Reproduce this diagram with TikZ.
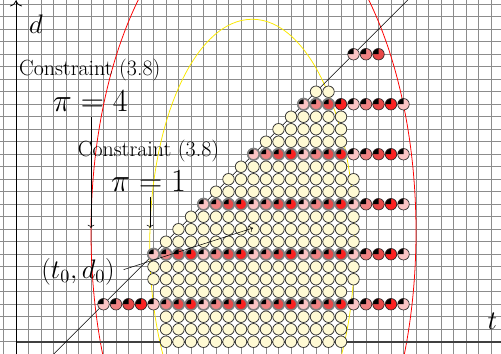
\documentclass[tikz,border=0pt]{standalone}
\usetikzlibrary{arrows.meta,positioning,calc}
\definecolor{cream}{RGB}{255,250,212}
\definecolor{yel}{RGB}{250,232,0}
\definecolor{pieA}{RGB}{250,196,196}
\definecolor{pieB}{RGB}{240,132,132}
\definecolor{pieC}{RGB}{232,72,72}
\definecolor{pieD}{RGB}{252,34,34}

\begin{document}
\begin{tikzpicture}[x=0.34cm,y=0.34cm,
  gridline/.style={black!45,line width=0.75pt},
  lbl/.style={font=\fontsize{17}{20}\selectfont,inner sep=1pt},
  bigmath/.style={font=\fontsize{23}{27}\selectfont,inner sep=2pt},
  axislbl/.style={font=\huge,inner sep=1pt}]
\useasboundingbox (-1.28,-0.98) rectangle (38.8,27.34);
\clip (-1.28,-0.98) rectangle (38.8,27.34);
\draw[gridline,step=0.34cm] (-2,-2) grid (40,29);
\draw[red,line width=0.6pt] (19,8.8) ellipse [x radius=13,y radius=26.3];
\draw[yel,line width=0.6pt] (18.9,7.8) ellipse [x radius=8.2,y radius=18];
\draw[black!75,line width=1.2pt] (0,0) -- (40,0);
\draw[-{To[length=1.6mm]},line width=0.6pt] (0,-1) -- (0,27.3);
\draw[line width=0.5pt] (2.5,-1.5) -- (32,28);
\foreach \i in {10,...,28}{
  \foreach \j in {0,...,21}{
    \pgfmathtruncatemacro\ins{(((\i-19)/8.3)^2+((\j-9)/17)^2<=1) && (\j<=\i-4)}
    \ifnum\ins=1
      \draw[fill=cream,draw=black!80,line width=0.6pt] (\i,\j) circle (0.46);
    \fi
  }
}
\foreach \j/\last in {3/31,7/31,11/31,15/31,19/31,23/29}{
  \pgfmathtruncatemacro\first{\j+4}
  \foreach \i in {\first,...,\last}{
    \pgfmathtruncatemacro\k{mod(\i,4)}
    \pgfmathparse{\k==0 ? "pieB" : (\k==1 ? "pieC" : (\k==2 ? "pieD" : "pieA"))}
    \edef\col{\pgfmathresult}
    \pgfmathtruncatemacro\ins{((\i-19)/8.3)^2+((\j-9)/17)^2<=1}
    \fill[\col] (\i,\j) circle (0.46);
    \fill[black] (\i,\j) -- ++(90:0.46) arc[start angle=90,end angle=180,radius=0.46] -- cycle;
    \ifnum\ins=1
      \draw[black!50,line width=1.3pt] (\i,\j) circle (0.46);
    \else
      \draw[black!85,line width=0.5pt] (\i,\j) circle (0.46);
    \fi
  }
}
\node[axislbl] (dlbl) at (1.6,25.4) {$d$};
\node[axislbl] (tlbl) at (38.1,1.6) {$t$};
\node[lbl] (cfour) at (5.9,21.7) {Constraint (3.8)};
\node[bigmath] (pifour) at (5.95,19.25) {$\pi=4$};
\node[lbl] (cone) at (10.6,15.25) {Constraint (3.8)};
\node[bigmath] (pione) at (10.6,12.85) {$\pi=1$};
\node[axislbl] (tzero) at (4.96,5.58) {$(t_0,d_0)$};
\coordinate (redleft) at (6,9.1);
\coordinate (yelleft) at (10.72,9.1);
\coordinate (t0d0) at (18.96,9.1);
\draw[->,shorten <=2pt] (pifour.south -| redleft) -- (redleft);
\draw[->,shorten <=2pt] (pione.south -| yelleft) -- (yelleft);
\draw[->,shorten <=6pt] (tzero.east) -- (t0d0);
\end{tikzpicture}
\end{document}
